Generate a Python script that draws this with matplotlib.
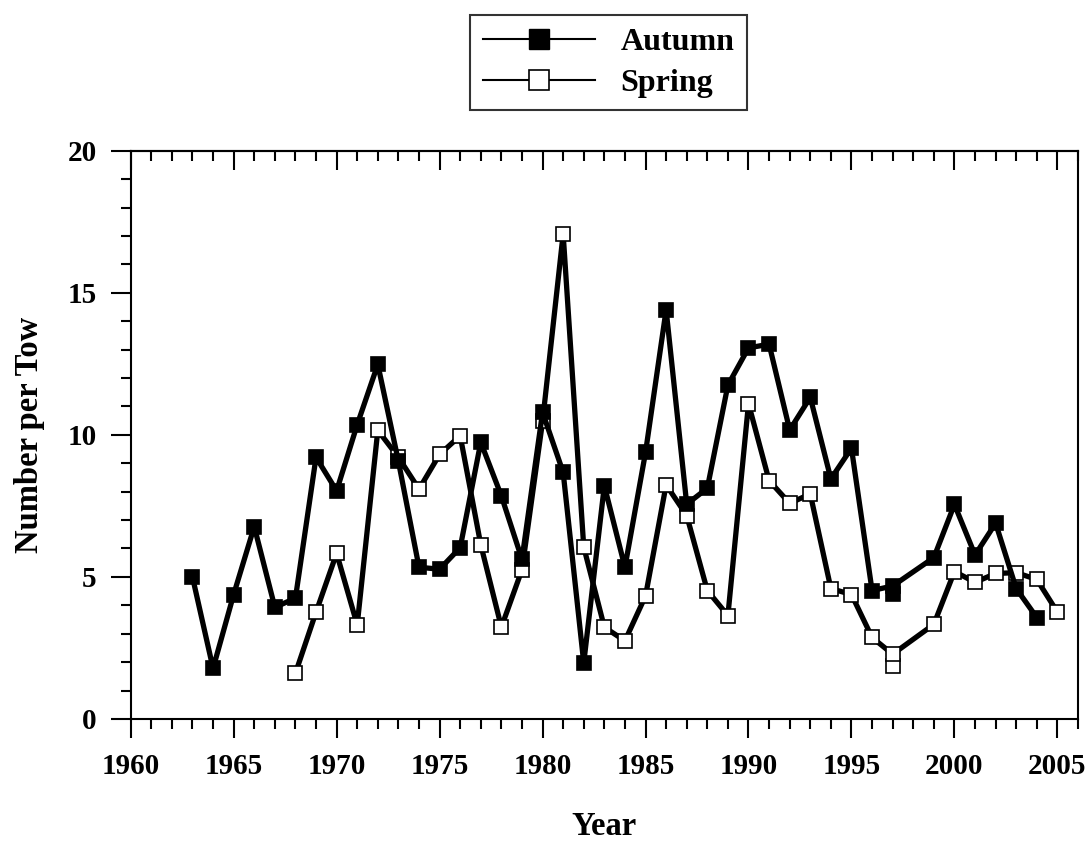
"""Autumn vs spring survey catch, number per tow by year."""
import matplotlib
matplotlib.use("Agg")
import matplotlib.pyplot as plt
from matplotlib.lines import Line2D
from matplotlib.ticker import MultipleLocator

plt.rcParams["font.family"] = ["Liberation Serif", "DejaVu Serif"]
plt.rcParams["font.weight"] = "bold"

# --- data ---
autumn_years = [1963, 1964, 1965, 1966, 1967, 1968, 1969, 1970, 1971, 1972,
                1973, 1974, 1975, 1976, 1977, 1978, 1979, 1980, 1981, 1982,
                1983, 1984, 1985, 1986, 1987, 1988, 1989, 1990, 1991, 1992,
                1993, 1994, 1995, 1996, 1997, 1999, 2000, 2001, 2002, 2003,
                2004]
autumn_vals = [5.00, 1.78, 4.38, 6.77, 3.93, 4.25, 9.21, 8.03, 10.36, 12.48,
               9.07, 5.34, 5.27, 6.03, 9.74, 7.85, 5.62, 10.79, 8.68, 1.97,
               8.21, 5.34, 9.38, 14.40, 7.56, 8.12, 11.75, 13.06, 13.19, 10.17,
               11.32, 8.45, 9.53, 4.52, 4.68, 5.68, 7.55, 5.77, 6.89, 4.59,
               3.57]
# second 1997 tow value (marker only)
autumn_extra_years = [1997]
autumn_extra_vals = [4.40]

spring_years = [1968, 1969, 1970, 1971, 1972, 1973, 1974, 1975, 1976, 1977,
                1978, 1979, 1980, 1981, 1982, 1983, 1984, 1985, 1986, 1987,
                1988, 1989, 1990, 1991, 1992, 1993, 1994, 1995, 1996, 1997,
                1999, 2000, 2001, 2002, 2003, 2004, 2005]
spring_vals = [1.61, 3.76, 5.83, 3.31, 10.16, 9.21, 8.09, 9.31, 9.97, 6.13,
               3.23, 5.25, 10.47, 17.07, 6.05, 3.23, 2.75, 4.33, 8.24, 7.16,
               4.52, 3.64, 11.10, 8.39, 7.59, 7.92, 4.59, 4.38, 2.87, 2.28,
               3.33, 5.19, 4.81, 5.12, 5.15, 4.91, 3.76]
spring_extra_years = [1997]
spring_extra_vals = [1.87]

x_ticks = [1960, 1965, 1970, 1975, 1980, 1985, 1990, 1995, 2000, 2005]
y_ticks = [0, 5, 10, 15, 20]

fig = plt.figure(figsize=(10.89, 8.41), dpi=100)
ax = fig.add_axes([0.12, 0.1451, 0.8699, 0.6757])

LW = 3.8
MS = 10
MEW = 1.2

ax.plot(spring_extra_years, spring_extra_vals, ls="none", marker="s",
        ms=MS, mfc="white", mec="black", mew=MEW, zorder=2)
ax.plot(autumn_extra_years, autumn_extra_vals, ls="none", marker="s",
        ms=MS, mfc="black", mec="black", mew=MEW, zorder=2)
ax.plot(spring_years, spring_vals, color="black", lw=LW, marker="s",
        ms=MS, mfc="white", mec="black", mew=MEW, zorder=3)
ax.plot(autumn_years, autumn_vals, color="black", lw=LW, marker="s",
        ms=MS, mfc="black", mec="black", mew=MEW, zorder=4)

ax.set_xlim(1960, 2006)
ax.set_ylim(0, 20)
ax.set_xticks(x_ticks)
ax.set_yticks(y_ticks)
ax.xaxis.set_minor_locator(MultipleLocator(1))
ax.yaxis.set_minor_locator(MultipleLocator(1))

for sp in ax.spines.values():
    sp.set_linewidth(1.5)

ax.tick_params(axis="x", which="major", direction="out", length=13.7,
               width=1.5, labelsize=21, pad=11, top=False)
ax.tick_params(axis="x", which="minor", direction="out", length=7.2,
               width=1.5, top=False)
ax.tick_params(axis="y", which="major", direction="out", length=14.4,
               width=1.5, labelsize=21, pad=10, right=False)
ax.tick_params(axis="y", which="minor", direction="out", length=7.2,
               width=1.5, right=False)

# inward ticks along the top edge
top = ax.secondary_xaxis("top")
top.set_xticks(x_ticks)
top.xaxis.set_minor_locator(MultipleLocator(1))
top.tick_params(which="major", direction="in", length=14, width=1.5,
                labeltop=False)
top.tick_params(which="minor", direction="in", length=7.5, width=1.5)
top.spines["top"].set_linewidth(1.5)

ax.set_xlabel("Year", fontsize=23.5, fontweight="bold", labelpad=22)
ax.set_ylabel("Number per Tow", fontsize=23.5, fontweight="bold", labelpad=16)

handles = [
    Line2D([], [], color="black", lw=1.5, marker="s", ms=15,
           mfc="black", mec="black"),
    Line2D([], [], color="black", lw=1.5, marker="s", ms=15,
           mfc="white", mec="black", mew=1.2),
]
leg = fig.legend(handles, ["Autumn", "Spring"], loc="center",
                 bbox_to_anchor=(0.5588, 0.9254), fontsize=23,
                 frameon=True, fancybox=False, edgecolor="black",
                 handlelength=3.5, handletextpad=0.8, labelspacing=0.35,
                 borderpad=0.4, numpoints=1)
leg.get_frame().set_linewidth(1.5)

fig.savefig("out.png", dpi=100)
